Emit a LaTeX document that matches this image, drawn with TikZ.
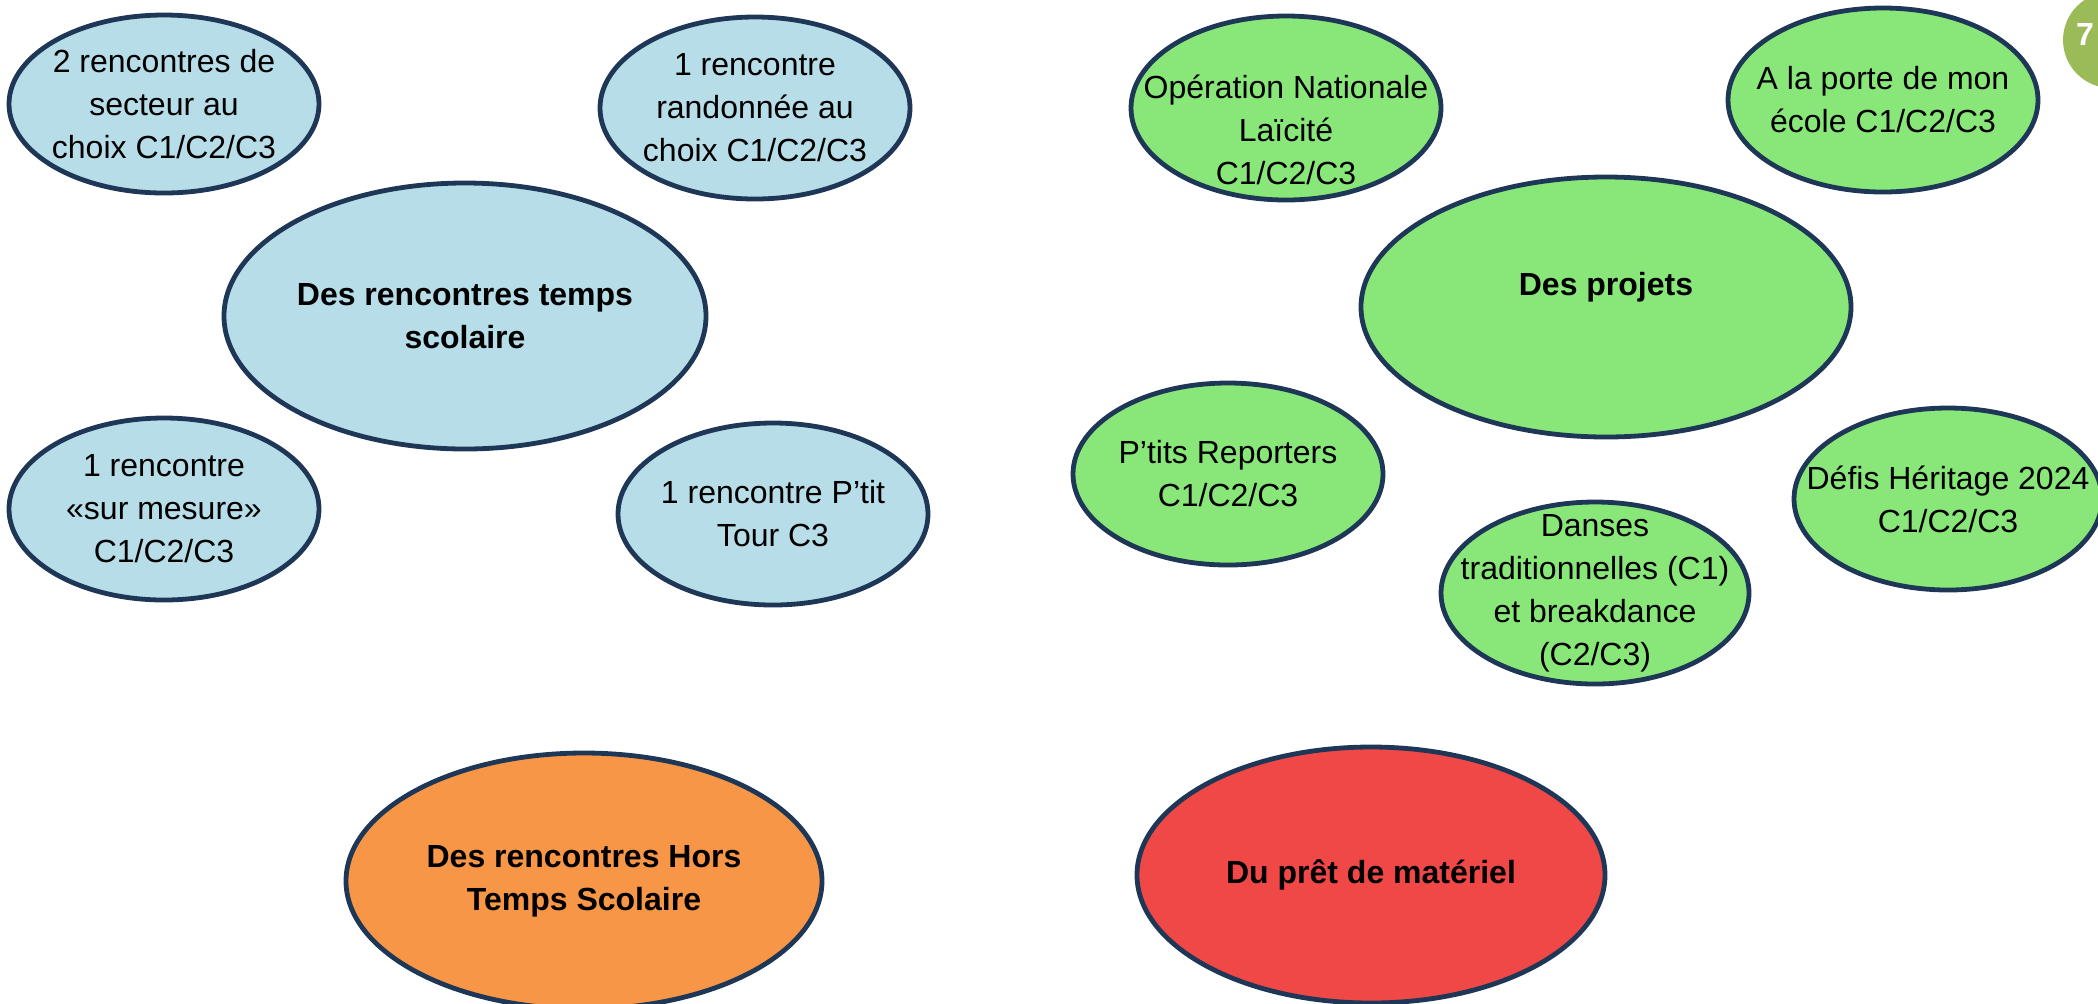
\documentclass[tikz,border=0pt]{standalone}
\usepackage{fontspec}
\setmainfont{Liberation Sans}
\usetikzlibrary{shapes.geometric}
\definecolor{bubbleline}{RGB}{31,55,86}
\definecolor{bluefill}{RGB}{183,221,232}
\definecolor{greenfill}{RGB}{137,231,122}
\definecolor{orangefill}{RGB}{247,150,70}
\definecolor{redfill}{RGB}{239,72,70}
\definecolor{badgefill}{RGB}{155,187,89}
\begin{document}
\begin{tikzpicture}[x=0.5pt,y=-0.5pt,
  bubble/.style={ellipse,draw=bubbleline,line width=2.4pt,inner sep=-20pt,align=center,
    font=\fontsize{16}{21.5}\selectfont,minimum width=155pt,minimum height=91pt},
  bigbubble/.style={bubble,font=\fontsize{16}{21.5}\selectfont\bfseries}]
\useasboundingbox (0,0) rectangle (2098,1003);
\clip (0,0) rectangle (2098,1003);
\node[bubble,fill=bluefill,minimum height=89pt] (secteur) at (164,104) {2 rencontres de\\secteur au\\choix C1/C2/C3};
\node[bubble,fill=bluefill] (rando) at (755,108) {1 rencontre\\randonnée au\\choix C1/C2/C3};
\node[bigbubble,fill=bluefill,minimum width=241pt,minimum height=133pt] (scolaire) at (465,316) {Des rencontres temps\\scolaire};
\node[bubble,fill=bluefill] (mesure) at (164,509) {1 rencontre\\«sur mesure»\\C1/C2/C3};
\node[bubble,fill=bluefill] (ptittour) at (773,514) {1 rencontre P’tit\\Tour C3};
\node[bigbubble,fill=orangefill,minimum width=238pt,minimum height=128pt] (hors) at (584,881) {Des rencontres Hors\\Temps Scolaire};
\node[bigbubble,fill=redfill,minimum width=234pt,minimum height=128pt] (pret) at (1371,875) {Du prêt de matériel};
\node[bubble,fill=greenfill,minimum height=92pt,
  label={[align=center,font=\fontsize{16}{21.5}\selectfont,yshift=-11pt]center:Opération Nationale\\Laïcité\\C1/C2/C3}] (laicite) at (1286,108) {};
\node[bubble,fill=greenfill,minimum height=92pt] (porte) at (1883,100) {A la porte de mon\\école C1/C2/C3};
\node[bigbubble,fill=greenfill,minimum width=245pt,minimum height=130pt,
  label={[font=\fontsize{16}{21.5}\selectfont\bfseries,yshift=10pt]center:Des projets}] (projets) at (1606,307) {};
\node[bubble,fill=greenfill] (reporters) at (1228,474) {P’tits Reporters\\C1/C2/C3};
\node[bubble,fill=greenfill,minimum width=154pt] (danses) at (1595,593) {Danses\\traditionnelles (C1)\\et breakdance\\(C2/C3)};
\node[bubble,fill=greenfill,minimum width=154pt] (defis) at (1948,499) {Défis Héritage 2024\\C1/C2/C3};
\node[circle,fill=badgefill,minimum size=48pt] (badge) at (2111,40) {};
\node[text=white,font=\fontsize{16}{21}\selectfont\bfseries] (pagenum) at (2085,34) {7};
\end{tikzpicture}
\end{document}
